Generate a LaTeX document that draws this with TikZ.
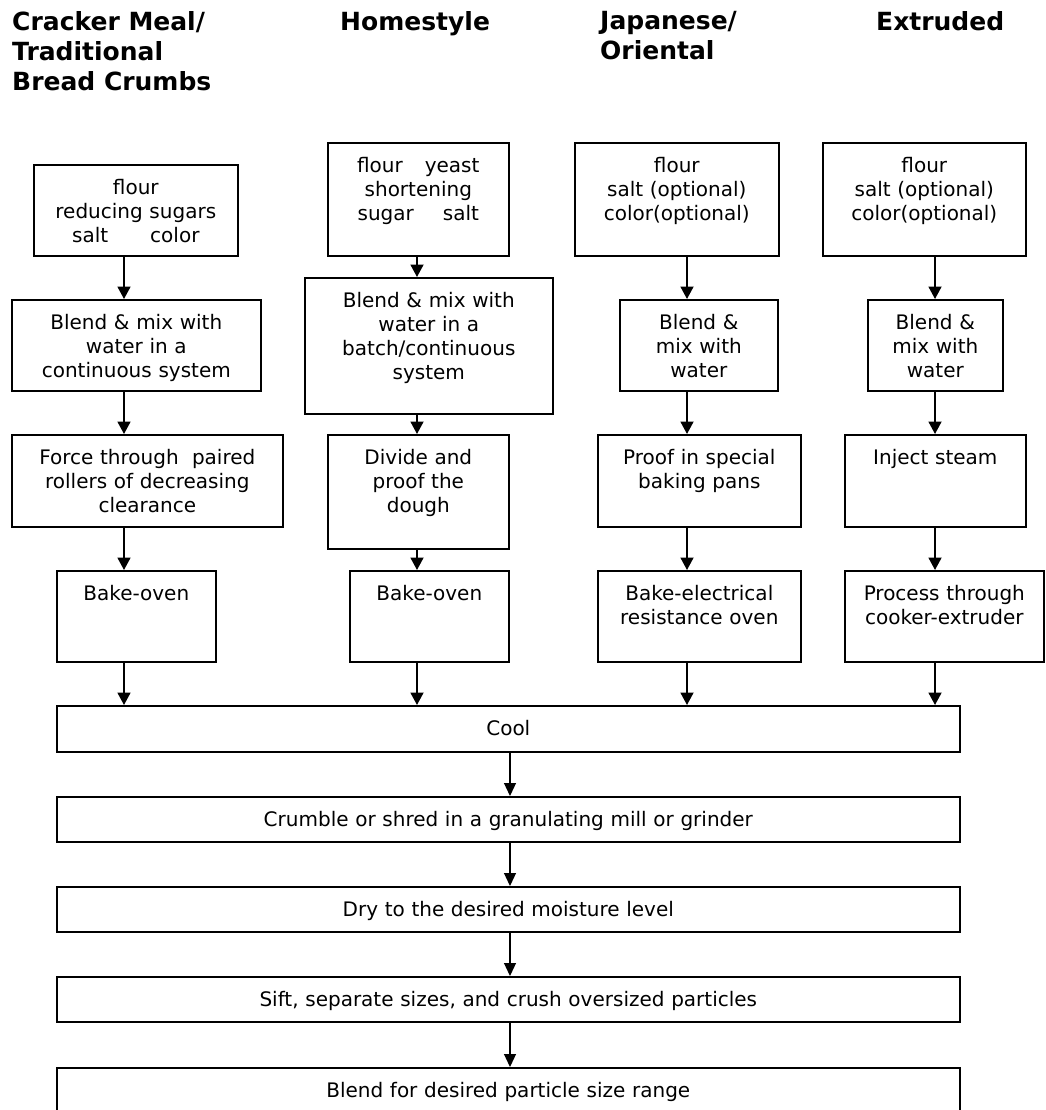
\documentclass[tikz,border=0pt]{standalone}
\usepackage{fontspec}
\setmainfont{DejaVu Sans}
\usetikzlibrary{arrows.meta}

\begin{document}
\begin{tikzpicture}[x=1pt,y=-1pt,
  box/.style={draw,line width=1.6pt,inner sep=0pt,align=center,anchor=north west,
    font=\fontsize{20}{24}\selectfont,text height=29.5pt},
  sz/.style 2 args={/utils/exec={\pgfmathsetmacro\bw{#1-4}},minimum width=#1pt,
    text width=\bw pt,text depth=#2pt-29.5pt},
  title/.style={anchor=north west,align=left,inner sep=0pt,
    font=\fontsize{25}{30}\selectfont\bfseries},
  flow/.style={-{Triangle[width=13pt,length=12.5pt]},line width=1.8pt},
  thin/.style={-{Triangle[width=12pt,length=13pt]},line width=1.2pt}]
\clip (0,0) rectangle (1045,1110);

\node[title] (t_1) at (12,11)  {Cracker Meal/\\Traditional\\Bread Crumbs};
\node[title] (t_2) at (340,11) {Homestyle};
\node[title] (t_3) at (600,11) {Japanese/\\Oriental};
\node[title] (t_4) at (876,11) {Extruded};

\coordinate (c_1) at (124,0);
\coordinate (c_2) at (417,0);
\coordinate (c_3) at (687,0);
\coordinate (c_4) at (935,0);
\coordinate (c_m) at (510,0);

\node[box,sz={204}{91}]  (a_1) at (33,164)  {flour\\reducing sugars\\salt\hspace{42pt}color};
\node[box,sz={249}{91}]  (b_1) at (11,299)  {Blend \& mix with\\water in a\\continuous system};
\node[box,sz={271}{92}]  (p_1) at (11,434)  {Force through\ \ paired\\rollers of decreasing\\clearance};
\node[box,sz={159}{91}]  (o_1) at (56,570)  {Bake-oven};

\node[box,sz={181}{113}] (a_2) at (327,142) {flour\hspace{22pt}yeast\\shortening\\sugar\hspace{29pt}salt};
\node[box,sz={248}{136}] (b_2) at (304,277) {Blend \& mix with\\water in a\\batch/continuous\\system};
\node[box,sz={181}{114}] (p_2) at (327,434) {Divide and\\proof the\\dough};
\node[box,sz={159}{91}]  (o_2) at (349,570) {Bake-oven};

\node[box,sz={204}{113}] (a_3) at (574,142) {flour\\salt (optional)\\color(optional)};
\node[box,sz={158}{91}]  (b_3) at (619,299) {Blend \&\\mix with\\water};
\node[box,sz={203}{92}]  (p_3) at (597,434) {Proof in special\\baking pans};
\node[box,sz={203}{91}]  (o_3) at (597,570) {Bake-electrical\\resistance oven};

\node[box,sz={203}{113}] (a_4) at (822,142) {flour\\salt (optional)\\color(optional)};
\node[box,sz={135}{91}]  (b_4) at (867,299) {Blend \&\\mix with\\water};
\node[box,sz={181}{92}]  (p_4) at (844,434) {Inject steam};
\node[box,sz={199}{91}]  (o_4) at (844,570) {Process through\\cooker-extruder};

\node[box,sz={903}{46}]  (cool)  at (56,705)  {Cool};
\node[box,sz={903}{45}]  (mill)  at (56,796)  {Crumble or shred in a granulating mill or grinder};
\node[box,sz={903}{45}]  (dry)   at (56,886)  {Dry to the desired moisture level};
\node[box,sz={903}{45}]  (sift)  at (56,976)  {Sift, separate sizes, and crush oversized particles};
\node[box,sz={903}{91}]  (blend) at (56,1067) {Blend for desired particle size range};

\path[flow] (a_1.south -| c_1) edge (b_1.north -| c_1)
            (b_1.south -| c_1) edge (p_1.north -| c_1)
            (p_1.south -| c_1) edge (o_1.north -| c_1)
            (o_1.south -| c_1) edge (cool.north -| c_1)
            (a_2.south -| c_2) edge (b_2.north -| c_2)
            (b_2.south -| c_2) edge (p_2.north -| c_2)
            (p_2.south -| c_2) edge (o_2.north -| c_2)
            (o_2.south -| c_2) edge (cool.north -| c_2)
            (a_3.south -| c_3) edge (b_3.north -| c_3)
            (b_3.south -| c_3) edge (p_3.north -| c_3)
            (p_3.south -| c_3) edge (o_3.north -| c_3)
            (o_3.south -| c_3) edge (cool.north -| c_3)
            (a_4.south -| c_4) edge (b_4.north -| c_4)
            (b_4.south -| c_4) edge (p_4.north -| c_4)
            (p_4.south -| c_4) edge (o_4.north -| c_4)
            (o_4.south -| c_4) edge (cool.north -| c_4);

\path[thin] (cool.south -| c_m) edge (mill.north -| c_m)
            (mill.south -| c_m) edge (dry.north -| c_m)
            (dry.south -| c_m)  edge (sift.north -| c_m)
            (sift.south -| c_m) edge (blend.north -| c_m);
\end{tikzpicture}
\end{document}
